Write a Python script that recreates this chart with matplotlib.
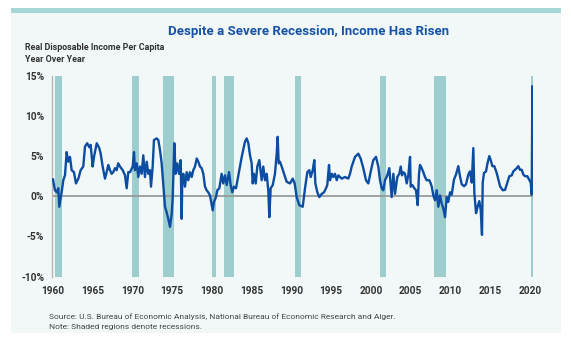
import matplotlib
matplotlib.use('Agg')
import matplotlib.pyplot as plt
from matplotlib.patches import Rectangle

# year over year change in real disposable income per capita (%)
years = [1960.0, 1960.25, 1960.47, 1960.67, 1960.79, 1961.09, 1961.3, 1961.51, 1961.72, 1961.92,
         1962.14, 1962.35, 1962.64, 1962.89, 1963.21, 1963.48, 1963.81, 1964.03, 1964.31, 1964.57,
         1964.74, 1964.99, 1965.16, 1965.5, 1965.82, 1966.0, 1966.25, 1966.54, 1966.75, 1966.96,
         1967.17, 1967.38, 1967.58, 1967.8, 1968.01, 1968.21, 1968.43, 1968.77, 1969.06, 1969.27,
         1969.47, 1969.69, 1970.03, 1970.19, 1970.31, 1970.53, 1970.73, 1970.94, 1971.16, 1971.36,
         1971.57, 1971.79, 1971.99, 1972.2, 1972.33, 1972.54, 1972.7, 1973.04, 1973.25, 1973.46,
         1973.67, 1973.87, 1974.09, 1974.3, 1974.5, 1974.72, 1974.93, 1975.06, 1975.26, 1975.43,
         1975.64, 1975.85, 1976.06, 1976.19, 1976.26, 1976.39, 1976.6, 1976.82, 1977.02, 1977.23,
         1977.45, 1977.65, 1977.86, 1978.08, 1978.28, 1978.49, 1978.7, 1978.91, 1979.12, 1979.33,
         1979.53, 1979.75, 1980.09, 1980.25, 1980.5, 1980.67, 1980.92, 1981.22, 1981.42, 1981.64,
         1981.85, 1982.14, 1982.35, 1982.55, 1982.77, 1983.02, 1983.31, 1983.74, 1984.15, 1984.36,
         1984.57, 1984.78, 1984.99, 1985.12, 1985.28, 1985.5, 1985.7, 1985.95, 1986.25, 1986.45,
         1986.67, 1986.88, 1987.08, 1987.21, 1987.38, 1987.64, 1987.92, 1988.14, 1988.26, 1988.39,
         1988.55, 1988.77, 1989.06, 1989.4, 1989.81, 1990.15, 1990.4, 1990.65, 1990.98, 1991.41,
         1991.7, 1991.99, 1992.24, 1992.42, 1992.67, 1992.87, 1993.0, 1993.25, 1993.5, 1993.8,
         1994.09, 1994.34, 1994.5, 1994.72, 1994.84, 1995.06, 1995.26, 1995.47, 1995.69, 1995.89,
         1996.31, 1996.73, 1997.14, 1997.36, 1997.57, 1997.99, 1998.4, 1998.7, 1999.03, 1999.37,
         1999.66, 2000.0, 2000.29, 2000.63, 2000.92, 2001.13, 2001.35, 2001.55, 2001.76, 2002.05,
         2002.3, 2002.48, 2002.6, 2002.81, 2003.02, 2003.31, 2003.56, 2003.74, 2003.9, 2004.06,
         2004.28, 2004.49, 2004.69, 2004.91, 2004.99, 2005.19, 2005.45, 2005.66, 2005.87, 2006.04,
         2006.16, 2006.38, 2006.58, 2006.79, 2007.0, 2007.33, 2007.51, 2007.64, 2007.84, 2008.05,
         2008.26, 2008.47, 2008.68, 2008.89, 2009.09, 2009.31, 2009.52, 2009.72, 2009.94, 2010.15,
         2010.44, 2010.69, 2010.98, 2011.19, 2011.41, 2011.7, 2011.95, 2012.24, 2012.45, 2012.67,
         2012.87, 2013.0, 2013.21, 2013.42, 2013.62, 2013.8, 2013.96, 2014.05, 2014.21, 2014.47,
         2014.63, 2014.88, 2015.09, 2015.26, 2015.51, 2015.81, 2016.01, 2016.23, 2016.57, 2016.86,
         2017.14, 2017.4, 2017.7, 2017.9, 2018.11, 2018.33, 2018.53, 2018.74, 2018.96, 2019.16,
         2019.37, 2019.66, 2019.87, 2020.09, 2020.21, 2020.3, 2020.4]
income_yoy = [2.1, 0.75, 0.5, 1.0, -1.3, 0.5, 2.0, 2.6, 5.5, 4.3,
              4.9, 3.25, 3.0, 1.6, 2.25, 3.25, 3.7, 6.2, 6.6, 6.1,
              6.4, 3.7, 4.9, 6.6, 6.0, 5.3, 3.7, 2.2, 3.0, 3.9,
              3.25, 2.8, 3.0, 3.5, 3.25, 4.1, 3.7, 3.25, 2.6, 1.0,
              3.0, 3.0, 3.7, 5.5, 3.25, 4.1, 2.4, 3.7, 2.8, 5.1,
              2.4, 4.3, 2.8, 3.25, 1.2, 3.7, 7.0, 7.2, 7.0, 5.75,
              4.1, 1.6, -1.3, -2.0, -2.8, -3.8, -2.2, -0.1, 6.6, 2.8,
              4.1, 2.8, 4.5, -2.8, 2.0, 2.8, 1.2, 3.0, 2.0, 3.0,
              2.4, 3.25, 3.7, 4.7, 4.3, 3.7, 3.5, 2.8, 1.2, 0.75,
              0.5, 0.1, -1.75, -0.7, -0.1, 0.75, 1.0, 2.8, 1.6, 2.6,
              1.4, 3.0, 1.4, 0.5, 1.2, 1.0, 2.6, 4.9, 6.8, 7.2,
              6.6, 5.1, 4.1, 1.6, 2.8, 1.6, 3.7, 4.5, 2.0, 3.7,
              2.0, 2.8, 0.75, -2.6, 1.0, 1.4, 2.8, 5.3, 7.4, 4.1,
              4.3, 3.7, 2.8, 1.8, 1.6, 2.2, 1.6, -0.1, -1.1, -1.3,
              1.0, 3.0, 3.25, 2.4, 3.25, 4.5, 1.6, 0.5, -0.1, 0.3,
              0.5, 1.0, 1.4, 3.9, 2.0, 2.8, 2.4, 2.8, 2.0, 2.6,
              2.2, 2.4, 2.2, 2.8, 3.7, 4.9, 5.3, 4.7, 3.5, 2.0,
              1.6, 3.25, 4.5, 4.9, 3.7, 2.0, 1.0, 0.75, 2.0, 2.6,
              3.5, 1.4, -0.1, 2.8, 0.3, 2.4, 2.8, 3.7, 2.6, 3.0,
              2.8, 1.6, 2.6, 4.9, 1.2, 1.4, 1.0, 0.75, -1.1, 2.8,
              3.9, 3.5, 3.0, 2.4, 2.0, 2.0, 1.6, 1.2, 0.1, -0.5,
              0.75, -1.3, 0.1, -0.9, -1.5, -2.6, -0.1, -0.7, 0.5, 0.2,
              2.1, 2.7, 3.75, 2.5, 1.5, 1.25, 1.5, 2.7, 3.1, 1.7,
              6.0, 0.4, -2.1, -1.25, -0.6, -1.7, -4.8, 1.7, 2.9, 3.1,
              4.0, 5.0, 4.4, 3.75, 3.75, 2.9, 2.1, 1.25, 0.75, 0.8,
              1.7, 2.5, 2.6, 3.1, 3.3, 3.5, 3.75, 3.3, 3.3, 2.7,
              2.5, 2.5, 2.1, 1.7, 0.2, 13.7, 8.0]

# NBER recessions (start, end)
rec_start = [1960.25, 1969.92, 1973.83, 1980.0, 1981.5, 1990.5, 2001.17, 2007.92, 2020.08]
rec_end = [1961.08, 1970.83, 1975.17, 1980.5, 1982.83, 1991.17, 2001.83, 2009.42, 2020.42]

year_ticks = list(range(1960, 2021, 5))
pct_ticks = [-10, -5, 0, 5, 10, 15]

font = ['Roboto', 'DejaVu Sans']

W, H = 571, 342
fig = plt.figure(figsize=(W / 100, H / 100), dpi=100)
fig.patch.set_facecolor('white')

# panel background and the teal bar on top (behind the axes)
fig.patches.append(Rectangle((11 / W, 1 - 333 / H), 550 / W, 320 / H, transform=fig.transFigure,
                             facecolor='#f2f8f8', edgecolor='none', zorder=-2))
fig.patches.append(Rectangle((11 / W, 1 - 13 / H), 550 / W, 5 / H, transform=fig.transFigure,
                             facecolor='#a6d7d6', edgecolor='none', zorder=-1))

ax = fig.add_axes([51.7 / W, 1 - 276.7 / H, 481.5 / W, 201 / H])
ax.set_facecolor('none')

for s, e in zip(rec_start, rec_end):
    ax.axvspan(s, e, color='#9dcdcc', lw=0, zorder=1)

ax.axhline(0, color='#9a9a9a', lw=1.3, zorder=2)
ax.plot(years, income_yoy, color='#0c4da2', lw=1.7, zorder=3, solid_joinstyle='round')

ax.set_xlim(1959.84, 2020.4)
ax.set_ylim(-10, 15)
ax.set_xticks(year_ticks)
ax.set_yticks(pct_ticks)
ax.set_yticklabels([f'{v}%' for v in pct_ticks])
ax.tick_params(length=0, colors='#333333')
ax.tick_params(axis='y', pad=5.5)
ax.tick_params(axis='x', pad=6.5)
for lab in ax.get_xticklabels() + ax.get_yticklabels():
    lab.set_family(font)
    lab.set_fontweight('bold')
    lab.set_fontsize(7.3)

for side in ['top', 'right', 'bottom']:
    ax.spines[side].set_visible(False)
ax.spines['left'].set_color('#b5b5b5')
ax.spines['left'].set_linewidth(1)

fig.text(309 / W, 1 - 31 / H, 'Despite a Severe Recession, Income Has Risen', ha='center', va='center',
         color='#1653a6', fontsize=9.5, fontweight='bold', family=font)
fig.text(25 / W, 1 - 48 / H, 'Real Disposable Income Per Capita', ha='left', va='center',
         color='#333333', fontsize=6.4, fontweight='bold', family=font)
fig.text(25 / W, 1 - 59 / H, 'Year Over Year', ha='left', va='center',
         color='#333333', fontsize=6.4, fontweight='bold', family=font)

fig.text(49 / W, 1 - 317 / H,
         'Source: U.S. Bureau of Economic Analysis, National Bureau of Economic Research and Alger.',
         ha='left', va='center', color='#444444', fontsize=6.0, family=font)
fig.text(49 / W, 1 - 327 / H, 'Note: Shaded regions denote recessions.',
         ha='left', va='center', color='#444444', fontsize=6.0, family=font)

fig.savefig('out.png', dpi=100)
